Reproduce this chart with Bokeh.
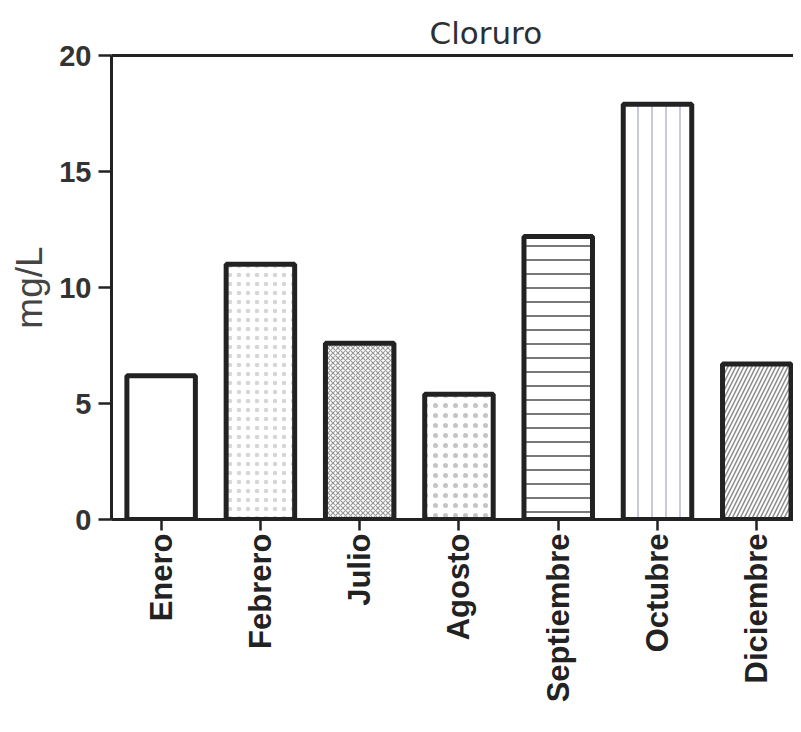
import math
from bokeh.plotting import figure
from bokeh.models import ColumnDataSource, LinearAxis, FixedTicker, Range1d
from bokeh.embed import file_html
from bokeh.resources import INLINE

# ---- data ----
months = ["Enero", "Febrero", "Julio", "Agosto", "Septiembre", "Octubre", "Diciembre"]
cloruro = [6.2, 11.0, 7.6, 5.4, 12.2, 17.9, 6.7]
y_ticks = [0, 5, 10, 15, 20]

# ---- styles ----
hatch_patterns = [" ", ".", "x", ".", "-", "|", "/"]
hatch_colors = ["#ffffff", "#d6d6d6", "#9a9a9a", "#c4c4c4", "#6a6a6a", "#b4b8cc", "#8a8a8a"]
hatch_scales = [10, 9, 5, 10, 14, 14, 8]
hatch_weights = [1, 2.2, 1.2, 5, 1.8, 1.5, 1.5]

xpos = [i + 0.5 for i in range(len(months))]
src = ColumnDataSource(dict(x=xpos, top=cloruro, hp=hatch_patterns, hc=hatch_colors,
                            hs=hatch_scales, hw=hatch_weights))

p = figure(width=793, height=718, output_backend="svg", toolbar_location=None,
           x_range=Range1d(0, 6.87), y_range=Range1d(0, 20),
           min_border_left=111, min_border_right=0, min_border_top=55,
           min_border_bottom=199)
p.outline_line_color = None
p.grid.grid_line_color = None
p.background_fill_color = "white"

p.vbar(x="x", top="top", bottom=0, width=0.69, source=src,
       fill_color="white", line_color="#222222", line_width=5,
       hatch_pattern="hp", hatch_color="hc", hatch_scale="hs", hatch_weight="hw")

# y axis
ya = p.yaxis[0]
ya.ticker = FixedTicker(ticks=y_ticks)
ya.axis_label = "mg/L"
ya.axis_label_text_font = "Liberation Sans"
ya.axis_label_text_font_style = "normal"
ya.axis_label_text_font_size = "37px"
ya.axis_label_text_color = "#444444"
ya.axis_label_standoff = 6
ya.major_label_text_font = "Liberation Sans"
ya.major_label_text_font_style = "bold"
ya.major_label_text_font_size = "29px"
ya.major_label_text_color = "#333333"
ya.major_label_standoff = 7
ya.axis_line_width = 3
ya.axis_line_color = "#222222"
ya.major_tick_line_width = 2.5
ya.major_tick_line_color = "#222222"
ya.major_tick_out = 13
ya.major_tick_in = 0
ya.minor_tick_out = 0
ya.minor_tick_in = 0

# x axis
xa = p.xaxis[0]
xa.ticker = FixedTicker(ticks=xpos)
xa.major_label_overrides = {x: m for x, m in zip(xpos, months)}
xa.major_label_orientation = math.pi / 2
xa.major_label_text_font = "Liberation Sans"
xa.major_label_text_font_style = "bold"
xa.major_label_text_font_size = "31px"
xa.major_label_text_color = "#222222"
xa.major_label_standoff = 3
xa.axis_line_width = 3
xa.axis_line_color = "#222222"
xa.major_tick_line_width = 2.5
xa.major_tick_line_color = "#222222"
xa.major_tick_out = 11
xa.major_tick_in = 0
xa.minor_tick_out = 0
xa.minor_tick_in = 0

# top frame line
top_axis = LinearAxis(ticker=FixedTicker(ticks=[]), major_label_text_font_size="0px",
                      axis_line_width=3, axis_line_color="#222222",
                      major_tick_out=0, major_tick_in=0, minor_tick_out=0, minor_tick_in=0,
                      major_label_standoff=0)
p.add_layout(top_axis, "above")

# title
p.title.text = "Cloruro"
p.title.align = "left"
p.title.offset = 318
p.title.text_font = "DejaVu Sans"
p.title.text_font_style = "normal"
p.title.text_font_size = "31px"
p.title.text_color = "#2a3036"
p.title.standoff = 10

open("out.html", "w").write(file_html(p, INLINE))
